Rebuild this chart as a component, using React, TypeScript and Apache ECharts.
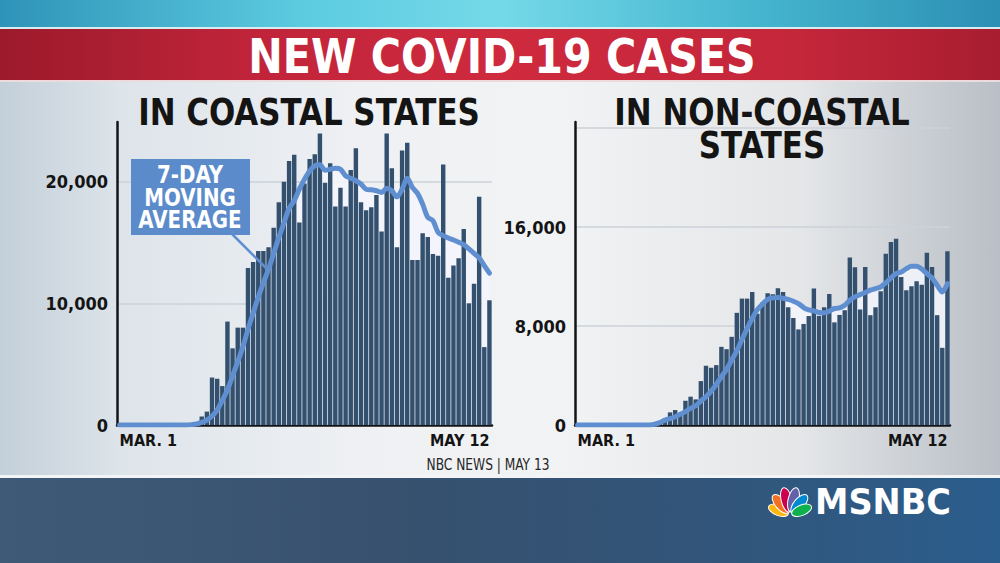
import React, { useEffect, useRef } from 'react';
import * as echarts from 'echarts';

// ---------- DATA ----------
const monthSpans: [string, number][] = [['MAR.', 31], ['APR.', 30], ['MAY', 12]];
const days: string[] = [];
monthSpans.forEach(([m, n]) => {
  for (let d = 1; d <= n; d++) days.push(`${m} ${d}`);
});

const coastalCases = [
  0, 0, 0, 0, 0, 0, 0, 0, 0, 0,
  0, 0, 0, 0, 100, 250, 700, 1100, 3900, 3800,
  3200, 8500, 6300, 8000, 8000, 12900, 13400, 14300, 14300, 14600,
  16200, 18300, 20000, 21700, 22200, 16650, 19850, 21850, 22250, 23950,
  19900, 21500, 17950, 19500, 17950, 20950, 22750, 18300, 17650, 17900,
  18900, 15900, 23950, 21100, 14600, 22550, 23200, 13550, 13550, 15750,
  15450, 14050, 13900, 21400, 12100, 13100, 13700, 16100, 10000, 11600,
  18750, 6400, 10250,
];

const coastalAvg = [
  0, 0, 0, 0, 0, 0, 0, 0, 0, 0,
  0, 0, 0, 0, 30, 90, 220, 410, 740, 1230,
  2020, 2870, 4040, 5190, 6420, 7860, 9200, 10500, 11700, 12800,
  14100, 15400, 16600, 17800, 18430, 19380, 20200, 20880, 21300, 21380,
  20940, 21020, 21100, 21020, 20480, 20280, 20070, 19800, 19380, 19330,
  19250, 19110, 19460, 19250, 18750, 19380, 20280, 19520, 19030, 18150,
  17060, 16790, 15830, 15560, 15370, 15200, 15020, 14820, 14470, 14110,
  13730, 13100, 12480,
];

const nonCoastalCases = [
  0, 0, 0, 0, 0, 0, 0, 0, 0, 0,
  0, 0, 0, 0, 0, 100, 200, 300, 1020, 1210,
  990, 1960, 2290, 2070, 3550, 4790, 4630, 4840, 6320, 6130,
  7130, 9070, 10220, 10220, 10760, 9000, 9900, 10650, 10580, 11050,
  10760, 9520, 8650, 7730, 8170, 8810, 11030, 8830, 9520, 10600,
  8300, 8900, 9280, 13550, 12750, 9340, 12780, 8880, 9520, 10820,
  13850, 14800, 15060, 11970, 10890, 11220, 11620, 11350, 13930, 12780,
  8880, 6240, 14040,
];

const nonCoastalAvg = [
  0, 0, 0, 0, 0, 0, 0, 0, 0, 0,
  0, 0, 0, 0, 0, 60, 190, 400, 510, 670,
  860, 1080, 1350, 1560, 1940, 2290, 2740, 3280, 3900, 4490,
  5250, 6000, 6910, 7800, 8610, 9330, 9780, 10150, 10280, 10300,
  10250, 10150, 10010, 9820, 9500, 9310, 9230, 9090, 9070, 9200,
  9420, 9470, 9680, 10090, 10360, 10540, 10710, 10900, 11030, 11160,
  11490, 11890, 12240, 12370, 12640, 12830, 12830, 12620, 12240, 11890,
  11300, 10760, 11430,
];

const coastalTicks = [0, 10000, 20000];
const nonCoastalTicks = [0, 8000, 16000];

// ---------- STYLE ----------
const COND = '"DejaVu Sans Condensed", "DejaVu Sans", sans-serif';
const BAR = '#33506f';
const LINE = '#5f8fd0';
const AREA = 'rgba(244,246,253,0.85)';
const INK = '#141414';

function xAxisFor(gridIndex: number) {
  return {
    type: 'category',
    gridIndex,
    data: days,
    boundaryGap: true,
    axisLine: { show: true, lineStyle: { color: INK, width: 2.5 } },
    axisTick: { show: false },
    splitLine: { show: false },
    axisLabel: {
      interval: (i: number) => i === 0 || i === days.length - 1,
      alignMinLabel: 'left',
      alignMaxLabel: 'right',
      color: INK,
      fontFamily: COND,
      fontWeight: 'bold',
      fontSize: 16,
      margin: 7,
    },
  };
}

function yAxisFor(gridIndex: number, ticks: number[], max: number) {
  const step = ticks[1] - ticks[0];
  return {
    type: 'value',
    gridIndex,
    min: 0,
    max,
    interval: step,
    axisLine: { show: true, lineStyle: { color: INK, width: 2.5 } },
    axisTick: { show: false },
    splitLine: { show: true, showMaxLine: false, showMinLine: false, lineStyle: { color: '#cdd2d8', width: 1.5 } },
    axisLabel: {
      showMaxLabel: false,
      formatter: (v: number) => (ticks.includes(v) ? v.toLocaleString('en-US') : ''),
      color: INK,
      fontFamily: COND,
      fontWeight: 'bold',
      fontSize: 18,
      margin: 9,
    },
  };
}

function seriesFor(idx: number, cases: number[], avg: number[]) {
  return [
    {
      type: 'line',
      xAxisIndex: idx,
      yAxisIndex: idx,
      data: avg,
      symbol: 'none',
      smooth: 0.3,
      lineStyle: { width: 0 },
      areaStyle: { color: AREA, opacity: 1 },
      z: 1,
      silent: true,
    },
    {
      type: 'bar',
      xAxisIndex: idx,
      yAxisIndex: idx,
      data: cases,
      barCategoryGap: '14%',
      itemStyle: { color: BAR },
      z: 3,
    },
    {
      type: 'line',
      xAxisIndex: idx,
      yAxisIndex: idx,
      data: avg,
      symbol: 'none',
      smooth: 0.3,
      lineStyle: { color: LINE, width: 5, cap: 'round', join: 'round' },
      z: 4,
    },
  ];
}

const feathers = [
  { color: '#fcb711', angle: -68, d: 12.5, rx: 5.2, ry: 10.5 },
  { color: '#f37021', angle: -40, d: 14.5, rx: 5.4, ry: 11.5 },
  { color: '#cc004c', angle: -13, d: 15.5, rx: 5.4, ry: 12.5 },
  { color: '#6460aa', angle: 13, d: 15.5, rx: 5.4, ry: 12.5 },
  { color: '#0089d0', angle: 40, d: 14.5, rx: 5.4, ry: 11.5 },
  { color: '#0db14b', angle: 68, d: 12.5, rx: 5.2, ry: 10.5 },
];

function peacock(bx: number, by: number) {
  return feathers.map((f) => {
    const t = (f.angle * Math.PI) / 180;
    return {
      type: 'ellipse',
      x: bx + f.d * Math.sin(t),
      y: by - f.d * Math.cos(t),
      rotation: -t,
      shape: { cx: 0, cy: 0, rx: f.rx, ry: f.ry },
      style: { fill: f.color, stroke: '#ffffff', lineWidth: 1 },
      z: 20,
    };
  });
}

function hGrad(stops: [number, string][]) {
  return {
    type: 'linear', x: 0, y: 0, x2: 1, y2: 0,
    colorStops: stops.map(([offset, color]) => ({ offset, color })),
  };
}

const graphics: any[] = [
  // top teal band
  { type: 'rect', shape: { x: 0, y: 0, width: 1000, height: 28 }, z: -10,
    style: { fill: hGrad([[0, '#2e93b8'], [0.3, '#5ccbe0'], [0.5, '#74d9e9'], [0.75, '#46b6cf'], [1, '#2c8fb4']]) } },
  { type: 'rect', shape: { x: 0, y: 27, width: 1000, height: 2 }, z: -9, style: { fill: '#d6eef2' } },
  // red banner
  { type: 'rect', shape: { x: 0, y: 29, width: 1000, height: 51 }, z: -10,
    style: { fill: hGrad([[0, '#9c1a2b'], [0.25, '#c0243a'], [0.5, '#cf2a3e'], [0.8, '#c4263a'], [1, '#a81d30']]) } },
  { type: 'rect', shape: { x: 0, y: 80, width: 1000, height: 2 }, z: -9, style: { fill: '#eedadc' } },
  // light panel
  { type: 'rect', shape: { x: 0, y: 82, width: 1000, height: 394 }, z: -10,
    style: { fill: hGrad([[0, '#c3cfd9'], [0.12, '#dde4ea'], [0.35, '#eef0f3'], [0.55, '#f2f3f4'], [0.8, '#e4e6e8'], [1, '#b9bfc6']]) } },
  { type: 'rect', shape: { x: 0, y: 475, width: 1000, height: 3 }, z: -9, style: { fill: '#f2f4f6' } },
  // dark bottom band
  { type: 'rect', shape: { x: 0, y: 478, width: 1000, height: 85 }, z: -10,
    style: { fill: hGrad([[0, '#3f5a76'], [0.4, '#37516f'], [0.7, '#325579'], [1, '#2b5d8c']]) } },

  // main title
  { type: 'text', x: 502, y: 56, scaleX: 0.955, z: 10,
    style: { text: 'NEW COVID-19 CASES', fill: '#ffffff', fontFamily: COND, fontWeight: 'bold', fontSize: 48,
      textAlign: 'center', textVerticalAlign: 'middle', shadowColor: 'rgba(0,0,0,0.35)', shadowBlur: 3, shadowOffsetY: 1 } },

  // panel titles
  { type: 'text', x: 309, y: 112, scaleX: 0.905, z: 10,
    style: { text: 'IN COASTAL STATES', fill: INK, fontFamily: COND, fontWeight: 'bold', fontSize: 38,
      textAlign: 'center', textVerticalAlign: 'middle' } },
  { type: 'text', x: 762, y: 112, scaleX: 0.905, z: 10,
    style: { text: 'IN NON-COASTAL', fill: INK, fontFamily: COND, fontWeight: 'bold', fontSize: 38,
      textAlign: 'center', textVerticalAlign: 'middle' } },
  { type: 'text', x: 762, y: 145, scaleX: 0.905, z: 10,
    style: { text: 'STATES', fill: INK, fontFamily: COND, fontWeight: 'bold', fontSize: 38,
      textAlign: 'center', textVerticalAlign: 'middle' } },

  // callout
  { type: 'line', shape: { x1: 232, y1: 234, x2: 266, y2: 268 }, z: 11, style: { stroke: LINE, lineWidth: 2.5 } },
  { type: 'rect', shape: { x: 131, y: 159, width: 119, height: 76 }, z: 12, style: { fill: '#5b8bca' } },
  { type: 'text', x: 190, y: 175, scaleX: 0.92, z: 13,
    style: { text: '7-DAY', fill: '#ffffff', fontFamily: COND, fontWeight: 'bold', fontSize: 24, textAlign: 'center', textVerticalAlign: 'middle' } },
  { type: 'text', x: 190, y: 198, scaleX: 0.92, z: 13,
    style: { text: 'MOVING', fill: '#ffffff', fontFamily: COND, fontWeight: 'bold', fontSize: 24, textAlign: 'center', textVerticalAlign: 'middle' } },
  { type: 'text', x: 190, y: 220, scaleX: 0.92, z: 13,
    style: { text: 'AVERAGE', fill: '#ffffff', fontFamily: COND, fontWeight: 'bold', fontSize: 24, textAlign: 'center', textVerticalAlign: 'middle' } },

  // source
  { type: 'text', x: 488, y: 464, scaleX: 0.85, z: 10,
    style: { text: 'NBC NEWS | MAY 13', fill: '#262626', fontFamily: COND, fontSize: 16, textAlign: 'center', textVerticalAlign: 'middle' } },

  // MSNBC logo
  ...peacock(790, 515),
  { type: 'text', x: 815, y: 502, scaleX: 0.96, z: 20,
    style: { text: 'MSNBC', fill: '#ffffff', fontFamily: '"DejaVu Sans", sans-serif', fontWeight: 'bold', fontSize: 35,
      textAlign: 'left', textVerticalAlign: 'middle' } },
];

const option: any = {
  animation: false,
  backgroundColor: 'transparent',
  grid: [
    { left: 117, top: 122, width: 375, height: 303 },
    { left: 575, top: 122, width: 375, height: 303 },
  ],
  xAxis: [xAxisFor(0), xAxisFor(1)],
  yAxis: [yAxisFor(0, coastalTicks, 24900), yAxisFor(1, nonCoastalTicks, 24500)],
  series: [...seriesFor(0, coastalCases, coastalAvg), ...seriesFor(1, nonCoastalCases, nonCoastalAvg)],
  graphic: { elements: graphics },
};

export default function App() {
  const ref = useRef<HTMLDivElement>(null);
  useEffect(() => {
    if (!ref.current) return;
    const chart = echarts.init(ref.current, null, { renderer: 'svg' });
    chart.setOption(option);
    return () => chart.dispose();
  }, []);
  return (
    <div
      ref={ref}
      style={{ position: 'absolute', left: 0, top: 0, width: 1000, height: 563 }}
    />
  );
}
